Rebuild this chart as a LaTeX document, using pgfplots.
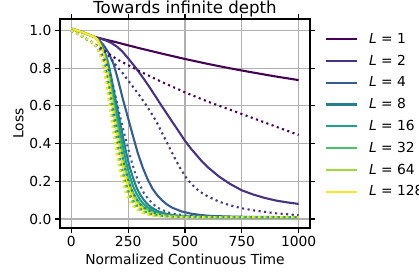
\documentclass[border=0pt]{standalone}
\usepackage{fontspec}
\setmainfont{DejaVu Sans}
\usepackage{pgfplots}
\pgfplotsset{compat=1.18}
\definecolor{vA}{HTML}{440154}
\definecolor{vB}{HTML}{46327E}
\definecolor{vC}{HTML}{365C8D}
\definecolor{vD}{HTML}{277F8E}
\definecolor{vE}{HTML}{1FA187}
\definecolor{vF}{HTML}{4AC16D}
\definecolor{vG}{HTML}{A0DA39}
\definecolor{vH}{HTML}{FDE725}
\definecolor{gridgray}{HTML}{B0B0B0}
\begin{document}
\begin{tikzpicture}
\useasboundingbox (-43.2bp,-33.1bp) rectangle (258.5bp,164.2bp);
\begin{axis}[
  at={(0,0)}, anchor=south west,
  width=180bp, height=150.5bp, scale only axis,
  xmin=-50, xmax=1050, ymin=-0.048, ymax=1.061,
  xtick={0,250,500,750,1000}, ytick={0,0.2,0.4,0.6,0.8,1.0},
  tick align=outside, major tick length=3.5bp,
  every tick/.style={black, line width=0.8bp},
  axis line style={line width=0.8bp},
  grid=major, major grid style={color=gridgray, line width=0.8bp},
  tick label style={font=\fontsize{10}{12}\selectfont, inner sep=0pt},
  /pgf/number format/assume math mode=true,
  /pgf/number format/1000 sep={},
  xticklabel style={anchor=base, yshift=-9.5bp},
  yticklabel style={anchor=east, xshift=-2.5bp, /pgf/number format/fixed, /pgf/number format/fixed zerofill, /pgf/number format/precision=1},
  title={Towards infinite depth},
  title style={font=\fontsize{12}{14}\selectfont, at={(axis description cs:0.5,1)}, anchor=base, yshift=-1.9bp, inner sep=0pt},
  xlabel={Normalized Continuous Time},
  ylabel={Loss},
  label style={font=\fontsize{10}{12}\selectfont, inner sep=0pt},
  xlabel style={at={(axis description cs:0.5,0)}, anchor=base, yshift=-26.6bp},
  ylabel style={at={(axis description cs:0,0.5)}, anchor=base, yshift=26.4bp},
  legend style={at={(axis description cs:1,1)}, anchor=north west, xshift=10.8bp, yshift=-10bp,
    draw=none, fill=none, inner sep=0pt, row sep=6.83bp, column sep=8bp,
    font=\fontsize{10}{12}\selectfont, nodes={inner sep=0pt}},
  legend cell align=left,
  legend image code/.code={\draw[#1] (0bp,0bp) -- (22bp,0bp);},
  every axis plot/.append style={line width=1.5bp, line join=round},
  dots/.style={dash pattern=on 1.5bp off 2.5bp, line cap=butt},
]
% L = 1
\addplot[vA] coordinates {(0,1.010)(25,1.000)(50,0.990)(75,0.978)(100,0.967)(150,0.952)(200,0.937)(300,0.906)(400,0.877)(500,0.849)(600,0.823)(700,0.799)(800,0.777)(900,0.756)(1000,0.737)};
\addlegendentry{\textit{L} = 1}
% L = 2
\addplot[vB] coordinates {(0,1.010)(25,1.000)(50,0.990)(75,0.978)(100,0.966)(125,0.958)(150,0.948)(175,0.935)(200,0.915)(225,0.888)(250,0.852)(275,0.815)(300,0.775)(325,0.733)(350,0.688)(375,0.642)(400,0.595)(425,0.55)(450,0.505)(475,0.46)(500,0.415)(525,0.375)(550,0.34)(575,0.305)(600,0.275)(650,0.225)(700,0.185)(750,0.152)(800,0.13)(850,0.112)(900,0.098)(950,0.088)(1000,0.08)};
\addlegendentry{\textit{L} = 2}
% L = 4
\addplot[vC] coordinates {(0,1.010)(25,1.000)(50,0.990)(75,0.978)(100,0.967)(121,0.951)(143,0.921)(164,0.881)(186,0.822)(207,0.731)(228,0.630)(250,0.534)(271,0.441)(292,0.351)(314,0.273)(335,0.212)(357,0.161)(378,0.126)(399,0.099)(421,0.077)(442,0.061)(485,0.040)(528,0.028)(570,0.021)(613,0.016)(699,0.013)(784,0.011)(955,0.010)(1000,0.010)};
\addlegendentry{\textit{L} = 4}
% L = 8
\addplot[vD] coordinates {(0,1.010)(25,1.000)(50,0.990)(75,0.978)(100,0.967)(115.5,0.952)(131,0.925)(147,0.887)(162.5,0.828)(178,0.738)(194,0.636)(209.5,0.541)(225,0.447)(240.5,0.357)(256,0.278)(272,0.216)(287.5,0.165)(303,0.129)(319,0.101)(334.5,0.079)(350,0.063)(381,0.041)(412.5,0.029)(444,0.021)(475,0.017)(537.5,0.013)(600,0.011)(725,0.010)(1000,0.010)};
\addlegendentry{\textit{L} = 8}
% L = 16
\addplot[vE] coordinates {(0,1.010)(25,1.000)(50,0.990)(75,0.978)(100,0.967)(114.5,0.954)(129,0.926)(143.5,0.889)(158,0.831)(172.5,0.742)(187,0.641)(201.5,0.545)(216,0.451)(230.5,0.361)(245,0.281)(259.5,0.219)(274,0.167)(288.5,0.131)(303,0.102)(317.5,0.080)(332,0.064)(361,0.042)(390,0.029)(419,0.0215)(448,0.017)(506,0.013)(564,0.011)(680,0.0102)(1000,0.010)};
\addlegendentry{\textit{L} = 16}
% L = 32
\addplot[vF] coordinates {(0,1.010)(25,1.000)(50,0.990)(75,0.978)(100,0.967)(113.5,0.954)(127,0.926)(140.5,0.889)(154,0.831)(167.5,0.742)(181,0.641)(194.5,0.545)(208,0.451)(221.5,0.361)(235,0.281)(248.5,0.219)(262,0.167)(275.5,0.131)(289,0.102)(302.5,0.080)(316,0.064)(343,0.042)(370,0.029)(397,0.0215)(424,0.017)(478,0.013)(532,0.011)(640,0.0102)(1000,0.010)};
\addlegendentry{\textit{L} = 32}
% L = 64
\addplot[vG] coordinates {(0,1.010)(25,1.000)(50,0.990)(75,0.978)(100,0.967)(113,0.954)(126,0.926)(139,0.889)(152,0.831)(165,0.742)(178,0.641)(191,0.545)(204,0.451)(217,0.361)(230,0.281)(243,0.219)(256,0.167)(269,0.131)(282,0.102)(295,0.080)(308,0.064)(334,0.042)(360,0.029)(386,0.0215)(412,0.017)(464,0.013)(516,0.011)(620,0.0102)(1000,0.010)};
\addlegendentry{\textit{L} = 64}
% L = 128
\addplot[vH] coordinates {(0,1.010)(25,1.000)(50,0.990)(75,0.978)(100,0.967)(112.5,0.954)(125,0.926)(137.5,0.889)(150,0.831)(162.5,0.742)(175,0.641)(187.5,0.545)(200,0.451)(212.5,0.361)(225,0.281)(237.5,0.219)(250,0.167)(262.5,0.131)(275,0.102)(287.5,0.080)(300,0.064)(325,0.042)(350,0.029)(375,0.0215)(400,0.017)(450,0.013)(500,0.011)(600,0.0102)(1000,0.010)};
\addlegendentry{\textit{L} = 128}
% dotted counterparts
\addplot[vA, dots, forget plot] coordinates {(0,1.000)(25,0.984)(50,0.967)(75,0.949)(100,0.930)(150,0.889)(200,0.848)(250,0.816)(300,0.784)(350,0.755)(400,0.726)(450,0.699)(500,0.672)(600,0.623)(700,0.579)(800,0.535)(900,0.490)(1000,0.446)};
\addplot[vB, dots, forget plot] coordinates {(0,1.0)(25,0.984)(50,0.967)(75,0.949)(100,0.93)(125,0.91)(150,0.885)(175,0.85)(200,0.81)(225,0.775)(250,0.735)(275,0.695)(300,0.655)(325,0.612)(350,0.565)(375,0.515)(400,0.455)(425,0.395)(450,0.335)(475,0.278)(500,0.228)(525,0.19)(550,0.16)(575,0.138)(600,0.12)(650,0.092)(700,0.072)(750,0.057)(800,0.046)(900,0.03)(1000,0.02)};
\addplot[vC, dots, forget plot] coordinates {(0,1.0)(25,0.984)(50,0.967)(75,0.949)(100,0.930)(118,0.906)(136,0.869)(154,0.825)(172.5,0.761)(191,0.670)(209,0.572)(227,0.482)(245,0.395)(263,0.313)(281,0.242)(299,0.187)(317.5,0.141)(336,0.110)(354,0.086)(372,0.067)(390,0.053)(426,0.035)(462.5,0.025)(499,0.019)(535,0.015)(607.5,0.012)(680,0.011)(825,0.010)(1000,0.010)};
\addplot[vD, dots, forget plot] coordinates {(0,1.0)(25,0.984)(50,0.967)(75,0.949)(100,0.930)(114,0.910)(128,0.876)(142,0.834)(156,0.772)(170,0.683)(184,0.584)(198,0.493)(212,0.405)(226,0.322)(240,0.250)(254,0.193)(268,0.147)(282,0.115)(296,0.089)(310,0.070)(324,0.056)(352,0.037)(380,0.026)(408,0.019)(436,0.016)(492,0.012)(548,0.0105)(660,0.010)(1000,0.010)};
\addplot[vE, dots, forget plot] coordinates {(0,1.0)(25,0.984)(50,0.967)(75,0.949)(100,0.930)(112.5,0.912)(125,0.880)(137.5,0.840)(150,0.780)(162.5,0.692)(175,0.594)(187.5,0.502)(200,0.413)(212.5,0.328)(225,0.255)(237.5,0.198)(250,0.150)(262.5,0.118)(275,0.092)(287.5,0.072)(300,0.057)(325,0.038)(350,0.026)(375,0.020)(400,0.016)(450,0.0125)(500,0.011)(600,0.010)(1000,0.010)};
\addplot[vF, dots, forget plot] coordinates {(0,1.0)(25,0.984)(50,0.967)(75,0.949)(100,0.930)(112,0.912)(124,0.880)(136,0.840)(148,0.780)(160,0.692)(172,0.594)(184,0.502)(196,0.413)(208,0.328)(220,0.255)(232,0.198)(244,0.150)(256,0.118)(268,0.092)(280,0.072)(292,0.057)(316,0.038)(340,0.026)(364,0.020)(388,0.016)(436,0.0125)(484,0.011)(580,0.010)(1000,0.010)};
\addplot[vG, dots, forget plot] coordinates {(0,1.0)(25,0.984)(50,0.967)(75,0.949)(100,0.930)(111.6,0.912)(123.3,0.880)(134.9,0.840)(146.5,0.780)(158.1,0.692)(169.8,0.594)(181.4,0.502)(193,0.413)(204.6,0.328)(216.3,0.255)(227.9,0.198)(239.5,0.150)(251.1,0.118)(262.8,0.092)(274.4,0.072)(286,0.057)(309.3,0.038)(332.5,0.026)(355.8,0.020)(379,0.016)(425.5,0.0125)(472,0.011)(565,0.010)(1000,0.010)};
\addplot[vH, dots, forget plot] coordinates {(0,1.0)(25,0.984)(50,0.967)(75,0.949)(100,0.930)(111,0.912)(122.5,0.880)(134,0.840)(145,0.780)(156,0.692)(167.5,0.594)(179,0.502)(190,0.413)(201,0.328)(212.5,0.255)(224,0.198)(235,0.150)(246,0.118)(257.5,0.092)(269,0.072)(280,0.057)(302.5,0.038)(325,0.026)(347.5,0.020)(370,0.016)(415,0.0125)(460,0.011)(550,0.010)(1000,0.010)};
\end{axis}
\end{tikzpicture}
\end{document}
